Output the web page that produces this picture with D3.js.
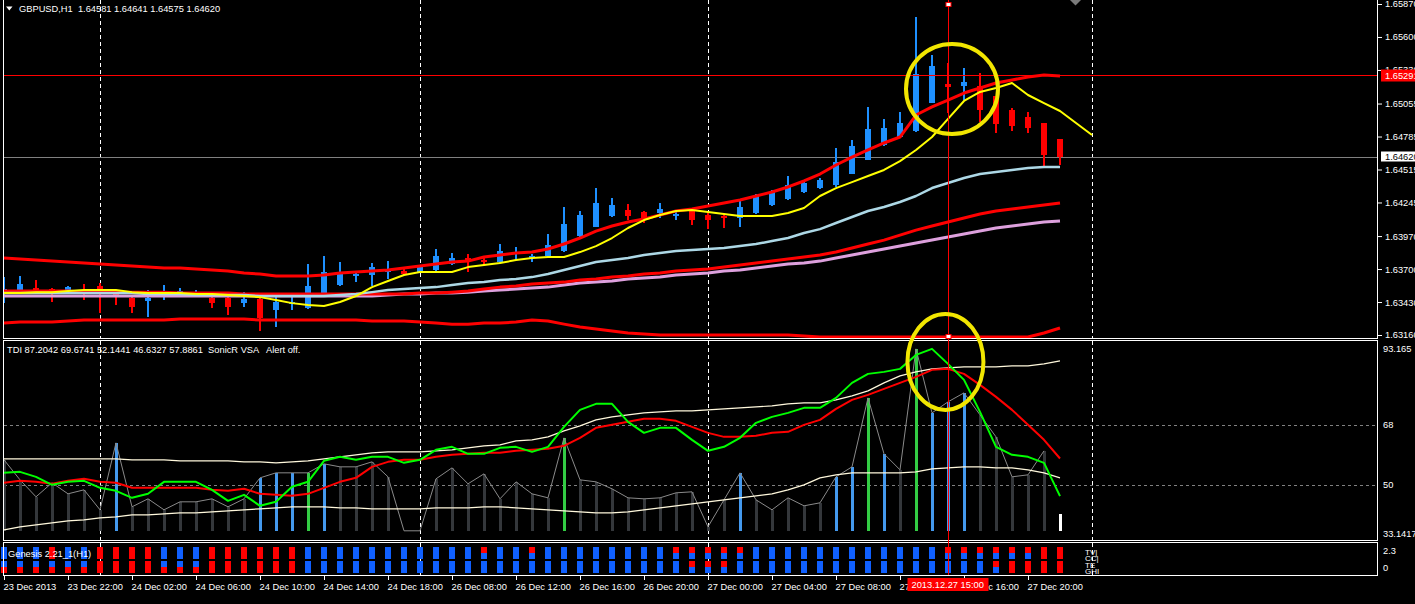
<!DOCTYPE html>
<html>
<head>
<meta charset="utf-8">
<title>GBPUSD,H1</title>
<script src="https://cdn.jsdelivr.net/npm/d3@7"></script>
<style>
    body { margin: 0; background: #000; overflow: hidden; }
    text { font-family: "Liberation Sans", Arial, sans-serif; font-size: 9.3px; fill: #fff; white-space: pre; }
</style>
</head>
<body>
<svg id="chart" width="1415" height="604"></svg>
<script>
// ---------------------------- data ----------------------------
// bottom time labels, every 4 bars
var tickBars = [0, 4, 8, 12, 16, 20, 24, 28, 32, 36, 40, 44, 48, 52, 56, 60, 64];
var tickLabels = ["23 Dec 2013", "23 Dec 22:00", "24 Dec 02:00", "24 Dec 06:00", "24 Dec 10:00", "24 Dec 14:00",
    "24 Dec 18:00", "26 Dec 08:00", "26 Dec 12:00", "26 Dec 16:00", "26 Dec 20:00", "27 Dec 00:00",
    "27 Dec 04:00", "27 Dec 08:00", "27 Dec 12:00", "27 Dec 16:00", "27 Dec 20:00"];
// day separators (bar index)
var separatorBars = [6, 26, 44, 68];

var priceTicks = [1.65870, 1.65600, 1.65330, 1.65055, 1.64785, 1.64515, 1.64245, 1.63970, 1.63700, 1.63430, 1.63160];
var tdiTicks = [93.165, 68, 50, 33.1417];
var tdiTickLabels = ["93.165", "68", "50", "33.1417"];
var tdiLevels = [68, 50];
var genesisTicks = [2.3, 0];

var crossBar = 59;
var crossPrice = 1.65291;
var bidPrice = 1.64620;
var crossTime = "2013.12.27 15:00";

// candles
var open = [1.63495, 1.63528, 1.63544, 1.63536, 1.63503, 1.63528, 1.63561, 1.63511, 1.63462, 1.63438,
    1.63487, 1.63495, 1.63495, 1.63462, 1.63462, 1.63421, 1.63454, 1.63364, 1.63413, 1.63380,
    1.63487, 1.63569, 1.63643, 1.63651, 1.63676, 1.63684, 1.63676, 1.63692, 1.63741, 1.63790,
    1.63774, 1.63757, 1.63823, 1.63790, 1.63806, 1.63847, 1.63970, 1.64044, 1.64134, 1.64183,
    1.64167, 1.64159, 1.64142, 1.64175, 1.64142, 1.64134, 1.64118, 1.64159, 1.64224, 1.64273,
    1.64331, 1.64363, 1.64388, 1.64478, 1.64593, 1.64715, 1.64781, 1.64830, 1.65059, 1.65215,
    1.65199, 1.65199, 1.65117, 1.65002, 1.64945, 1.64896, 1.64765];
var high = [1.63634, 1.63643, 1.63610, 1.63544, 1.63560, 1.63577, 1.63585, 1.63520, 1.63479, 1.63528,
    1.63569, 1.63544, 1.63528, 1.63479, 1.63479, 1.63511, 1.63479, 1.63503, 1.63495, 1.63741,
    1.63807, 1.63757, 1.63676, 1.63749, 1.63765, 1.63700, 1.63725, 1.63864, 1.63831, 1.63823,
    1.63798, 1.63905, 1.63880, 1.63823, 1.63987, 1.64208, 1.64175, 1.64363, 1.64281, 1.64232,
    1.64175, 1.64240, 1.64175, 1.64183, 1.64167, 1.64142, 1.64273, 1.64314, 1.64347, 1.64462,
    1.64421, 1.64445, 1.64691, 1.64756, 1.65027, 1.64928, 1.64986, 1.65764, 1.65453, 1.65387,
    1.65346, 1.65305, 1.65117, 1.65018, 1.64986, 1.64896, 1.64765];
var low = [1.63421, 1.63520, 1.63503, 1.63429, 1.63495, 1.63446, 1.63339, 1.63405, 1.63339, 1.63306,
    1.63446, 1.63470, 1.63487, 1.63380, 1.63323, 1.63388, 1.63192, 1.63225, 1.63364, 1.63372,
    1.63479, 1.63561, 1.63594, 1.63561, 1.63618, 1.63651, 1.63667, 1.63667, 1.63733, 1.63676,
    1.63733, 1.63749, 1.63774, 1.63757, 1.63798, 1.63839, 1.63962, 1.64044, 1.64126, 1.64101,
    1.64077, 1.64118, 1.64101, 1.64060, 1.64027, 1.64036, 1.64044, 1.64150, 1.64216, 1.64265,
    1.64322, 1.64355, 1.64372, 1.64478, 1.64593, 1.64707, 1.64781, 1.64822, 1.65059, 1.64977,
    1.65084, 1.64904, 1.64814, 1.64830, 1.64814, 1.64543, 1.64552];
var close = [1.63536, 1.63577, 1.63511, 1.63503, 1.63552, 1.63511, 1.63503, 1.63479, 1.63388, 1.63462,
    1.63511, 1.63520, 1.63511, 1.63421, 1.63388, 1.63454, 1.63298, 1.63429, 1.63429, 1.63561,
    1.63676, 1.63667, 1.63660, 1.63716, 1.63700, 1.63659, 1.63716, 1.63806, 1.63790, 1.63774,
    1.63757, 1.63847, 1.63839, 1.63806, 1.63897, 1.64068, 1.64142, 1.64241, 1.64224, 1.64134,
    1.64101, 1.64191, 1.64150, 1.64101, 1.64101, 1.64118, 1.64208, 1.64298, 1.64331, 1.64388,
    1.64404, 1.64429, 1.64576, 1.64707, 1.64847, 1.64855, 1.64896, 1.65297, 1.65362, 1.65190,
    1.65231, 1.65002, 1.64887, 1.64871, 1.64855, 1.64634, 1.64620];

// upper band (red)
var bandUpper = [1.63790, 1.63782, 1.63774, 1.63765, 1.63757, 1.63749, 1.63741, 1.63733, 1.63725, 1.63716,
    1.63708, 1.63708, 1.63700, 1.63692, 1.63684, 1.63667, 1.63659, 1.63643, 1.63643, 1.63643,
    1.63651, 1.63667, 1.63676, 1.63684, 1.63692, 1.63708, 1.63725, 1.63741, 1.63757, 1.63765,
    1.63798, 1.63815, 1.63831, 1.63839, 1.63864, 1.63905, 1.63954, 1.64011, 1.64052, 1.64085,
    1.64110, 1.64142, 1.64175, 1.64191, 1.64216, 1.64241, 1.64265, 1.64298, 1.64331, 1.64372,
    1.64421, 1.64478, 1.64552, 1.64617, 1.64675, 1.64732, 1.64781, 1.64961, 1.65027, 1.65084,
    1.65141, 1.65182, 1.65223, 1.65248, 1.65272, 1.65289, 1.65281];
// lower band (red)
var bandLower = [1.63258, 1.63266, 1.63266, 1.63266, 1.63274, 1.63282, 1.63282, 1.63282, 1.63282, 1.63282,
    1.63282, 1.63290, 1.63290, 1.63290, 1.63290, 1.63290, 1.63282, 1.63282, 1.63282, 1.63282,
    1.63282, 1.63282, 1.63282, 1.63274, 1.63274, 1.63274, 1.63266, 1.63258, 1.63249, 1.63249,
    1.63258, 1.63258, 1.63266, 1.63282, 1.63274, 1.63249, 1.63225, 1.63209, 1.63192, 1.63176,
    1.63168, 1.63160, 1.63160, 1.63160, 1.63160, 1.63160, 1.63160, 1.63160, 1.63160, 1.63160,
    1.63151, 1.63143, 1.63143, 1.63143, 1.63143, 1.63143, 1.63143, 1.63143, 1.63143, 1.63143,
    1.63143, 1.63143, 1.63143, 1.63143, 1.63143, 1.63176, 1.63217];
// fast ma (yellow, shifted 2 bars forward so 69 values)
var maYellow = [1.63503, 1.63503, 1.63511, 1.63511, 1.63520, 1.63528, 1.63528, 1.63528, 1.63511, 1.63503,
    1.63503, 1.63503, 1.63495, 1.63495, 1.63487, 1.63479, 1.63470, 1.63446, 1.63421, 1.63405,
    1.63397, 1.63430, 1.63479, 1.63552, 1.63602, 1.63651, 1.63676, 1.63676, 1.63676, 1.63716,
    1.63733, 1.63749, 1.63774, 1.63790, 1.63798, 1.63798, 1.63839, 1.63888, 1.63954, 1.64036,
    1.64101, 1.64142, 1.64175, 1.64183, 1.64167, 1.64150, 1.64134, 1.64134, 1.64134, 1.64159,
    1.64200, 1.64298, 1.64363, 1.64412, 1.64462, 1.64511, 1.64584, 1.64675, 1.64781, 1.64929,
    1.65076, 1.65150, 1.65182, 1.65223, 1.65125, 1.65059, 1.64994, 1.64896, 1.64797];
// light blue ma
var maBlue = [1.63503, 1.63503, 1.63503, 1.63503, 1.63503, 1.63503, 1.63503, 1.63503, 1.63503, 1.63495,
    1.63495, 1.63495, 1.63487, 1.63487, 1.63487, 1.63487, 1.63479, 1.63479, 1.63479, 1.63479,
    1.63479, 1.63487, 1.63495, 1.63511, 1.63528, 1.63536, 1.63544, 1.63552, 1.63569, 1.63585,
    1.63593, 1.63610, 1.63618, 1.63634, 1.63659, 1.63692, 1.63725, 1.63757, 1.63774, 1.63790,
    1.63815, 1.63831, 1.63847, 1.63856, 1.63864, 1.63872, 1.63888, 1.63905, 1.63929, 1.63954,
    1.63995, 1.64027, 1.64077, 1.64126, 1.64175, 1.64208, 1.64249, 1.64298, 1.64363, 1.64404,
    1.64445, 1.64478, 1.64494, 1.64511, 1.64527, 1.64535, 1.64535];
// slow ma (red)
var maRed = [1.63520, 1.63520, 1.63520, 1.63520, 1.63520, 1.63511, 1.63511, 1.63511, 1.63511, 1.63511,
    1.63511, 1.63503, 1.63503, 1.63503, 1.63503, 1.63495, 1.63495, 1.63495, 1.63495, 1.63495,
    1.63495, 1.63495, 1.63495, 1.63495, 1.63495, 1.63495, 1.63503, 1.63503, 1.63511, 1.63520,
    1.63536, 1.63552, 1.63561, 1.63577, 1.63585, 1.63593, 1.63610, 1.63618, 1.63634, 1.63643,
    1.63659, 1.63667, 1.63684, 1.63692, 1.63700, 1.63716, 1.63733, 1.63749, 1.63765, 1.63782,
    1.63798, 1.63815, 1.63839, 1.63872, 1.63905, 1.63937, 1.63978, 1.64019, 1.64052, 1.64085,
    1.64118, 1.64150, 1.64175, 1.64191, 1.64208, 1.64224, 1.64241];
// slow ma (plum)
var maPink = [1.63479, 1.63479, 1.63479, 1.63479, 1.63479, 1.63479, 1.63479, 1.63479, 1.63479, 1.63479,
    1.63479, 1.63479, 1.63479, 1.63479, 1.63479, 1.63479, 1.63479, 1.63479, 1.63479, 1.63479,
    1.63479, 1.63479, 1.63479, 1.63479, 1.63487, 1.63495, 1.63495, 1.63503, 1.63503, 1.63511,
    1.63520, 1.63528, 1.63536, 1.63544, 1.63552, 1.63569, 1.63585, 1.63593, 1.63602, 1.63618,
    1.63626, 1.63634, 1.63651, 1.63659, 1.63667, 1.63684, 1.63692, 1.63708, 1.63725, 1.63741,
    1.63749, 1.63765, 1.63790, 1.63815, 1.63839, 1.63864, 1.63888, 1.63913, 1.63937, 1.63962,
    1.63987, 1.64011, 1.64036, 1.64052, 1.64068, 1.64085, 1.64093];

// TDI window
var tdiGreen = [53.6, 53.9, 52.4, 50.0, 50.9, 51.2, 49.1, 48.2, 46.1, 47.3,
    50.9, 50.9, 50.9, 48.5, 45.2, 47.0, 43.7, 44.9, 49.4, 50.9,
    57.2, 58.4, 57.5, 58.4, 58.4, 56.6, 57.5, 60.5, 61.4, 59.3,
    59.3, 61.1, 61.4, 59.9, 61.4, 67.4, 72.5, 74.3, 74.3, 68.9,
    65.6, 67.1, 67.1, 63.5, 60.2, 61.4, 64.1, 68.6, 70.4, 71.6,
    73.1, 73.1, 76.1, 80.6, 83.3, 83.9, 84.8, 89.0, 90.8, 86.3,
    81.5, 71.9, 61.4, 59.0, 58.4, 56.6, 46.6];
var tdiRed = [50.6, 51.2, 50.9, 50.3, 51.2, 51.8, 50.9, 50.6, 49.1, 49.1,
    49.1, 49.1, 49.1, 48.5, 48.2, 48.8, 47.3, 47.0, 46.7, 47.3,
    49.1, 50.9, 52.1, 55.4, 56.9, 57.5, 57.5, 58.4, 59.0, 59.3,
    59.6, 59.6, 60.2, 60.5, 60.8, 61.7, 64.1, 67.1, 68.0, 68.9,
    69.8, 69.8, 69.2, 67.4, 65.6, 64.4, 64.4, 64.7, 65.6, 65.9,
    68.0, 69.5, 72.8, 75.5, 77.0, 78.8, 80.6, 82.4, 84.5, 84.8,
    83.3, 80.0, 76.4, 72.5, 68.0, 63.5, 57.9];
var tdiUpper = [57.8, 57.8, 57.8, 57.8, 57.8, 57.8, 57.8, 57.8, 57.5, 57.5,
    57.5, 57.2, 57.2, 57.2, 57.2, 56.9, 56.9, 56.6, 56.9, 57.2,
    57.8, 58.4, 59.0, 59.6, 59.9, 59.9, 59.9, 60.2, 60.5, 61.1,
    61.7, 62.0, 63.2, 63.5, 64.4, 66.2, 67.7, 69.5, 70.4, 71.0,
    71.6, 71.9, 72.2, 72.2, 72.5, 72.8, 73.1, 73.4, 73.7, 74.3,
    74.6, 74.6, 75.5, 76.7, 78.2, 80.6, 82.7, 83.9, 84.8, 85.1,
    85.4, 85.4, 85.4, 85.7, 85.7, 86.3, 87.2];
var tdiLower = [36.5, 37.4, 38.0, 38.6, 39.2, 39.5, 40.1, 40.4, 41.0, 41.0,
    41.3, 41.6, 41.6, 41.9, 42.2, 42.5, 42.8, 43.1, 43.4, 43.4,
    43.4, 43.1, 43.1, 42.8, 42.8, 42.8, 42.8, 43.1, 43.1, 43.1,
    43.4, 43.4, 43.1, 42.8, 42.5, 42.2, 41.9, 41.6, 41.6, 41.9,
    42.5, 43.1, 43.7, 44.3, 44.9, 45.5, 46.1, 46.7, 47.3, 48.5,
    50.0, 52.1, 53.0, 53.6, 53.6, 53.6, 53.6, 53.9, 54.8, 55.1,
    55.4, 55.4, 55.1, 55.1, 54.5, 53.6, 52.1];
// VSA volume histogram, drawn up from volBase
var volBase = 36.2;
var volume = [57.5, 51.5, 46.4, 50.6, 47.3, 48.5, 42.5, 62.6, 43.4, 45.8,
    42.5, 44.9, 44.9, 45.8, 43.4, 45.8, 52.1, 53.6, 53.6, 53.6,
    56.3, 55.4, 55.4, 56.9, 52.4, 36.2, 36.2, 51.8, 55.1, 50.3,
    53.3, 45.8, 50.9, 47.3, 46.1, 64.1, 51.5, 50.9, 48.8, 46.1,
    45.8, 46.1, 47.6, 47.9, 37.4, 45.5, 53.6, 45.5, 42.5, 46.1,
    43.7, 44.6, 52.4, 55.4, 76.1, 59.3, 54.5, 90.8, 71.6, 74.9,
    77.6, 71.0, 64.4, 52.4, 53.0, 60.2, 41.3];
// d = normal, b = blue, g = green, w = current bar
var volType = ("ddddddd" + "b" + "dddddddd" + "bbb" + "g" + "b" + "dddddddddddddd" + "g" +
    "dddddddddd" + "b" + "ddddd" + "bb" + "g" + "b" + "d" + "g" + "bbb" + "ddddd" + "w").split("");

// Genesis rows, b = blue, r = red
var genesisRows = ["TV", "CC", "T3", "GH"];
var genesisTV = ("bbb" + "r" + "bb" + "rrrr" + "bbb" + "rrrrrr" + "bbbbbbbbbbb" + "r" + "bb" + "r" +
    "bbbbbbbb" + "rrrrr" + "bbbbbbbbbbbb" + "rrrrrrrr").split("");
var genesisCC = ("bbb" + "r" + "bb" + "rrrr" + "bbb" + "rrrrrr" + "bbbbbbbbbb" + "bbbbbbbbbb" +
    "bbbbbbbbbb" + "bbbbbbbbbb" + "bbbbbb" + "rr").split("");
var genesisT3 = ("bbbbbb" + "rrrr" + "bbb" + "rrrrrr" + "bbbbbbbbbbbb" + "bbbbbbbbbbbb" + "rrr" +
    "bbbbbbbbbbbbbbbb" + "rrrrr").split("");
var genesisGH = ("rrrrrrrrrrrrrrrrrrr" + "bbbbbbbbbbbbbbbbbbbbbb" + "bbbbbbbbbbbbbbbbbbbbbb" + "rrrr").split("");
var genesisLabels = ["TV|", "CC|", "TE", "GHI"];

// ---------------------------- chart ----------------------------
var svg = d3.select("#chart");
svg.append("rect").attr("width", 1415).attr("height", 604).attr("fill", "#000");

var bull = "#1e90ff", bear = "#ff0000";

//set x and y scales
var x = d3.scaleLinear().domain([0, 66]).range([4, 1060]);
var yP = d3.scaleLinear().domain([1.63160, 1.65870]).range([335, 4]);
var yT = d3.scaleLinear().domain([33.1417, 93.165]).range([541, 341]);
var yG = d3.scaleLinear().domain([0, 2.3]).range([568, 551]);
var gRow = d3.scaleBand().domain(genesisRows).range([547, 571]);

var bars = d3.range(open.length);

// clip paths for the windows
var defs = svg.append("defs");
defs.append("clipPath").attr("id", "clipMain").append("rect")
    .attr("x", 4).attr("y", 0).attr("width", 1373).attr("height", 338);
defs.append("clipPath").attr("id", "clipTdi").append("rect")
    .attr("x", 4).attr("y", 341).attr("width", 1373).attr("height", 199);

// day separators
[[0, 338], [341, 540], [543, 575]].forEach(function (r) {
    svg.append("g").selectAll("line")
        .data(separatorBars).enter()
        .append("line")
        .attr("x1", function (d) { return x(d) + 0.5; })
        .attr("x2", function (d) { return x(d) + 0.5; })
        .attr("y1", r[0]).attr("y2", r[1])
        .attr("stroke", "#fff")
        .attr("stroke-dasharray", "4,3");
});

//----------------------------main window----------------------------
var main = svg.append("g").attr("clip-path", "url(#clipMain)");

// bid line
main.append("line")
    .attr("x1", 4).attr("x2", 1377)
    .attr("y1", Math.round(yP(bidPrice)) + 0.5).attr("y2", Math.round(yP(bidPrice)) + 0.5)
    .attr("stroke", "#808080");

// candles
main.selectAll(".wick")
    .data(bars).enter()
    .append("rect")
    .attr("class", "wick")
    .attr("x", function (i) { return x(i) - 1; })
    .attr("width", 2)
    .attr("y", function (i) { return yP(high[i]); })
    .attr("height", function (i) { return Math.max(1, yP(low[i]) - yP(high[i])); })
    .attr("fill", function (i) { return close[i] >= open[i] ? bull : bear; })
    .attr("shape-rendering", "crispEdges");

main.selectAll(".body")
    .data(bars).enter()
    .append("rect")
    .attr("class", "body")
    .attr("x", function (i) { return x(i) - 3; })
    .attr("width", 6)
    .attr("y", function (i) { return yP(Math.max(open[i], close[i])); })
    .attr("height", function (i) { return Math.max(2, Math.abs(yP(open[i]) - yP(close[i]))); })
    .attr("fill", function (i) { return close[i] >= open[i] ? bull : bear; })
    .attr("shape-rendering", "crispEdges");

// moving averages / bands
var priceLine = d3.line()
    .x(function (d, i) { return x(i); })
    .y(function (d) { return yP(d); });

var mainLines = [
    { data: maPink, color: "#dda0dd", w: 3 },
    { data: maRed, color: "#ff0000", w: 3 },
    { data: maBlue, color: "#add8e6", w: 2.5 },
    { data: bandLower, color: "#ff0000", w: 3 },
    { data: bandUpper, color: "#ff0000", w: 3 },
    { data: maYellow, color: "#ffff00", w: 2 }
];
mainLines.forEach(function (l) {
    main.append("path")
        .datum(l.data)
        .attr("d", priceLine)
        .attr("fill", "none")
        .attr("stroke", l.color)
        .attr("stroke-width", l.w)
        .attr("stroke-linejoin", "round");
});

//----------------------------TDI window----------------------------
var tdi = svg.append("g").attr("clip-path", "url(#clipTdi)");

tdi.selectAll(".level")
    .data(tdiLevels).enter()
    .append("line")
    .attr("x1", 4).attr("x2", 1377)
    .attr("y1", function (d) { return Math.round(yT(d)) + 0.5; })
    .attr("y2", function (d) { return Math.round(yT(d)) + 0.5; })
    .attr("stroke", "#808080")
    .attr("stroke-dasharray", "3,3");

var volColor = { d: "#34373b", b: "#4499ee", g: "#33cc44", w: "#ffffff" };
tdi.selectAll(".vol")
    .data(bars).enter()
    .append("rect")
    .attr("class", "vol")
    .attr("x", function (i) { return x(i) - 1; })
    .attr("width", 3)
    .attr("y", function (i) { return yT(volume[i]); })
    .attr("height", function (i) { return yT(volBase) - yT(volume[i]); })
    .attr("fill", function (i) { return volColor[volType[i]]; })
    .attr("shape-rendering", "crispEdges");

var tdiLine = d3.line()
    .x(function (d, i) { return x(i); })
    .y(function (d) { return yT(d); });

// gray line over the volume tops (not through current bar)
tdi.append("path")
    .datum(volume.slice(0, volume.length - 1))
    .attr("d", tdiLine)
    .attr("fill", "none")
    .attr("stroke", "#8a8a8a")
    .attr("stroke-width", 1);

[{ data: tdiUpper, color: "#fff8dc", w: 1.2 },
    { data: tdiLower, color: "#fff8dc", w: 1.2 },
    { data: tdiRed, color: "#ff0000", w: 2 },
    { data: tdiGreen, color: "#00ff00", w: 2 }
].forEach(function (l) {
    tdi.append("path")
        .datum(l.data)
        .attr("d", tdiLine)
        .attr("fill", "none")
        .attr("stroke", l.color)
        .attr("stroke-width", l.w)
        .attr("stroke-linejoin", "round");
});

//----------------------------Genesis window----------------------------
var genesis = svg.append("g");
var genColor = { b: "#1060ff", r: "#ff0000" };
[genesisTV, genesisCC, genesisT3, genesisGH].forEach(function (row, k) {
    genesis.selectAll(".gen" + k)
        .data(bars).enter()
        .append("rect")
        .attr("x", function (i) { return x(i) - 3; })
        .attr("width", 6)
        .attr("y", gRow(genesisRows[k]) + (k >= 2 ? 2 : 0))
        .attr("height", gRow.bandwidth())
        .attr("fill", function (i) { return genColor[row[i]]; })
        .attr("shape-rendering", "crispEdges");
});
genesis.selectAll(".glabel")
    .data(genesisLabels).enter()
    .append("text")
    .attr("x", 1085)
    .attr("y", function (d, k) { return 555 + k * 6.3; })
    .style("font-size", "8px")
    .text(function (d) { return d; });

//----------------------------frames----------------------------
[[-1, 338.5], [340.5, 540.5], [542.5, 575.5]].forEach(function (r) {
    svg.append("rect")
        .attr("x", 3.5).attr("y", r[0])
        .attr("width", 1374).attr("height", r[1] - r[0])
        .attr("fill", "none")
        .attr("stroke", "#fff");
});

//----------------------------axes----------------------------
// price axis
var pAxis = svg.append("g")
    .attr("transform", "translate(1378,0)")
    .call(d3.axisRight(yP).tickValues(priceTicks).tickFormat(d3.format(".5f")).tickSize(4).tickPadding(3).tickSizeOuter(0));
pAxis.select(".domain").remove();

// TDI axis
var tAxis = svg.append("g")
    .attr("transform", "translate(1378,0)")
    .call(d3.axisRight(yT).tickValues(tdiTicks)
        .tickFormat(function (d, i) { return tdiTickLabels[i]; })
        .tickSize(0).tickPadding(5).tickSizeOuter(0));
tAxis.select(".domain").remove();
tAxis.selectAll("text").attr("dy", function (d, i) {
    if (i === 0) return "1.1em";
    if (i === tdiTicks.length - 1) return "-0.45em";
    return "0.32em";
});

// genesis axis
var gAxis = svg.append("g")
    .attr("transform", "translate(1378,0)")
    .call(d3.axisRight(yG).tickValues(genesisTicks).tickFormat(d3.format("")).tickSize(0).tickPadding(5).tickSizeOuter(0));
gAxis.select(".domain").remove();

// time axis
var xAxis = svg.append("g")
    .attr("transform", "translate(0,576)")
    .call(d3.axisBottom(x).tickValues(tickBars)
        .tickFormat(function (d, i) { return tickLabels[i]; })
        .tickSize(4).tickPadding(3).tickSizeOuter(0));
xAxis.select(".domain").remove();
xAxis.selectAll("text").attr("text-anchor", "start").attr("x", -1);

[pAxis, tAxis, gAxis, xAxis].forEach(function (a) {
    a.attr("font-family", null).attr("font-size", null);
    a.selectAll("line").attr("stroke", "#fff");
    a.selectAll("text").style("fill", "#fff");
});

//----------------------------labels----------------------------
svg.append("path")
    .attr("d", "M6,6.5 L12.5,6.5 L9.25,10.5 Z")
    .attr("fill", "#fff");
svg.append("text").attr("x", 19).attr("y", 12)
    .text("GBPUSD,H1  1.64581 1.64641 1.64575 1.64620");
svg.append("text").attr("x", 7).attr("y", 353)
    .text("TDI 87.2042 69.6741 52.1441 46.6327 57.8861  SonicR VSA   Alert off.");
svg.append("text").attr("x", 8).attr("y", 557)
    .text("Genesis 2.21_1(H1)");

// shift marker top right
svg.append("path")
    .attr("d", "M1070,0 L1081,0 L1075.5,5.5 Z")
    .attr("fill", "#7a7a7a");

// bid label
svg.append("rect")
    .attr("x", 1381).attr("y", Math.round(yP(bidPrice)) - 5.5)
    .attr("width", 36).attr("height", 10)
    .attr("fill", "#fff");
svg.append("text")
    .attr("x", 1385).attr("y", Math.round(yP(bidPrice)) + 3)
    .style("fill", "#000")
    .text(d3.format(".5f")(bidPrice));

//----------------------------crosshair----------------------------
var cx = Math.round(x(crossBar)) + 0.5;
var cy = Math.round(yP(crossPrice)) + 0.5;
svg.append("line")
    .attr("x1", 4).attr("x2", 1377)
    .attr("y1", cy).attr("y2", cy)
    .attr("stroke", "#ff0000");
svg.append("line")
    .attr("x1", cx).attr("x2", cx)
    .attr("y1", 0).attr("y2", 575)
    .attr("stroke", "#ff0000");
[2.5, 334.5].forEach(function (yy) {
    svg.append("rect")
        .attr("x", cx - 2.5).attr("y", yy)
        .attr("width", 5).attr("height", 4)
        .attr("fill", "#fff").attr("stroke", "#ff0000");
});
svg.append("rect")
    .attr("x", 1381).attr("y", cy - 6)
    .attr("width", 36).attr("height", 12)
    .attr("fill", "#ff0000");
svg.append("text")
    .attr("x", 1385).attr("y", cy + 3)
    .text(d3.format(".5f")(crossPrice));
svg.append("rect")
    .attr("x", cx - 41).attr("y", 578)
    .attr("width", 81).attr("height", 13)
    .attr("fill", "#ff0000");
svg.append("text")
    .attr("x", cx - 37).attr("y", 588)
    .text(crossTime);

//----------------------------highlight circles----------------------------
svg.append("ellipse")
    .attr("cx", x(59.25)).attr("cy", yP(1.65174))
    .attr("rx", 46).attr("ry", 45)
    .attr("fill", "none").attr("stroke", "#f2e600").attr("stroke-width", 4);
svg.append("ellipse")
    .attr("cx", x(58.84)).attr("cy", yT(86.9))
    .attr("rx", 38).attr("ry", 48)
    .attr("fill", "none").attr("stroke", "#f2e600").attr("stroke-width", 4);
</script>
</body>
</html>
